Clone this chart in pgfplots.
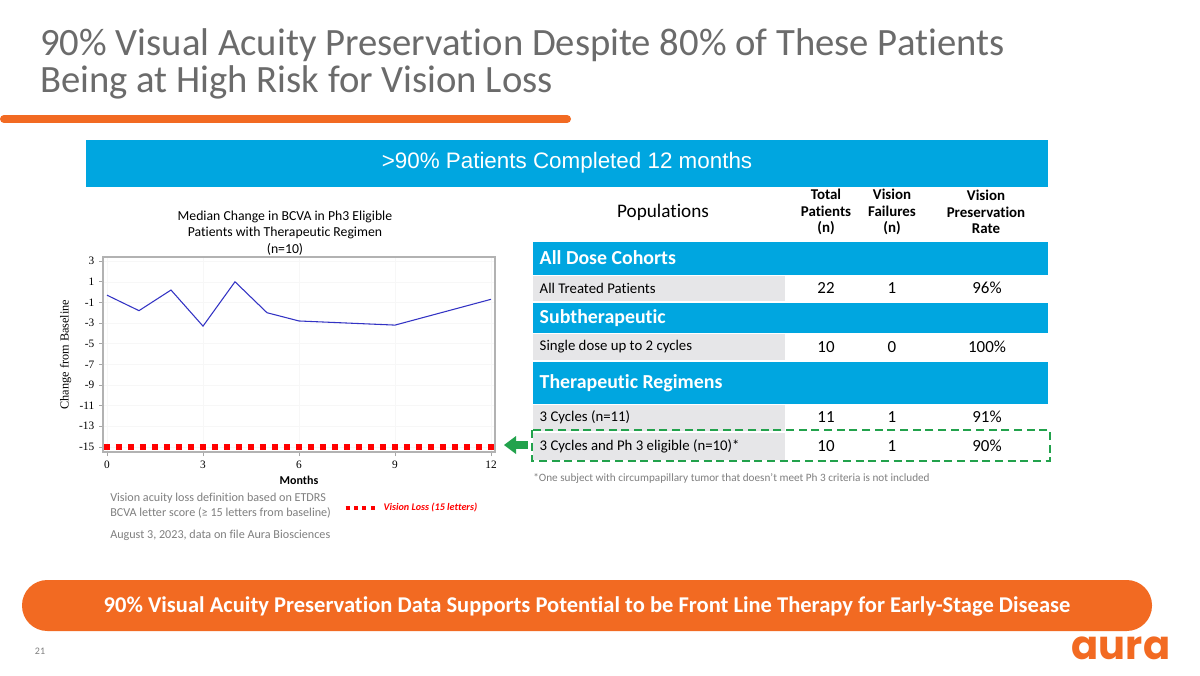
\documentclass[border=0pt]{standalone}
\usepackage{fontspec}
\setmainfont{Carlito}[Ligatures={NoCommon}]
\newfontfamily\serif{Liberation Serif}
\newfontfamily\arial{Liberation Sans}
\newfontfamily\pop{Poppins}
\usepackage{pgfplots}
\pgfplotsset{compat=1.18}
\definecolor{titlegray}{HTML}{6B6B6B}
\definecolor{auraorange}{HTML}{F26A22}
\definecolor{bannerblue}{HTML}{00A6E0}
\definecolor{cellgray}{HTML}{E6E6E8}
\definecolor{boxgreen}{HTML}{22A24C}
\definecolor{lineblue}{HTML}{3333C4}
\definecolor{notegray}{HTML}{7F7F7F}
\begin{document}
\begin{tikzpicture}[x=0.75pt,y=-0.75pt]
\useasboundingbox (0,0) rectangle (1200,675);
\fill[white] (0,0) rectangle (1200,675);
% title
\node[anchor=base west,inner sep=0,text=titlegray,font=\fontsize{29}{32}\selectfont] at (40,55) {90\% Visual Acuity Preservation Despite 80\% of These Patients};
\node[anchor=base west,inner sep=0,text=titlegray,font=\fontsize{29}{32}\selectfont] at (40,92) {Being at High Risk for Vision Loss};
\draw[auraorange,line width=6pt,line cap=round] (4,119) -- (567,119);
% banner
\fill[bannerblue] (86,140) rectangle (1048,187);
\node[text=white,font=\arial\fontsize{16.8}{20}\selectfont] at (567,163) {>90\% Patients Completed 12 months};
% table header
\node[font=\fontsize{14.4}{17}\selectfont] at (663,212) {Populations};
\node[align=center,font=\bfseries\fontsize{11.2}{12.2}\selectfont] at (826,212) {Total\\Patients\\(n)};
\node[align=center,font=\bfseries\fontsize{11.2}{12.2}\selectfont] at (892,212) {Vision\\Failures\\(n)};
\node[align=center,font=\bfseries\fontsize{11.2}{12.2}\selectfont] at (986,212) {Vision\\Preservation\\Rate};
% table body
\fill[bannerblue] (533,242) rectangle (1048,275);
\node[anchor=west,text=white,font=\bfseries\fontsize{14.9}{17}\selectfont] at (535,258) {All Dose Cohorts};
\fill[cellgray] (533,276) rectangle (785,301);
\node[anchor=west,font=\fontsize{11.1}{13}\selectfont] at (535,288) {All Treated Patients};
\fill[bannerblue] (533,303) rectangle (1048,333);
\node[anchor=west,text=white,font=\bfseries\fontsize{14.9}{17}\selectfont] at (535,318) {Subtherapeutic};
\fill[cellgray] (533,334) rectangle (785,360);
\node[anchor=west,font=\fontsize{11.1}{13}\selectfont] at (535,347) {Single dose up to 2 cycles};
\fill[bannerblue] (533,362) rectangle (1048,404);
\node[anchor=west,text=white,font=\bfseries\fontsize{14.9}{17}\selectfont] at (535,383) {Therapeutic Regimens};
\fill[cellgray] (533,405) rectangle (785,431);
\node[anchor=west,font=\fontsize{11.1}{13}\selectfont] at (535,417) {3 Cycles (n=11)};
\fill[cellgray] (533,433) rectangle (785,460);
\node[anchor=west,font=\fontsize{11.1}{13}\selectfont] at (535,446) {3 Cycles and Ph 3 eligible (n=10)*};
\foreach \y/\a/\b/\c in {288/22/1/96\%,347/10/0/100\%,417/11/1/91\%,446/10/1/90\%}{
  \node[font=\fontsize{12.7}{14}\selectfont] at (826,\y) {\a};
  \node[font=\fontsize{12.7}{14}\selectfont] at (892,\y) {\b};
  \node[font=\fontsize{12.7}{14}\selectfont] at (987,\y) {\c};
}
\draw[boxgreen,line width=1.8pt,dash pattern=on 6pt off 3.5pt] (532,430) rectangle (1050,461);
\fill[boxgreen] (515,441) rectangle (528,449);
\fill[boxgreen] (504,445) -- (516,436) -- (516,454) -- cycle;
\node[anchor=base west,inner sep=0,text=notegray,font=\fontsize{8.4}{10}\selectfont] at (533,481) {*One subject with circumpapillary tumor that doesn’t meet Ph 3 criteria is not included};
% chart title
\node[align=center,font=\fontsize{10.3}{12.4}\selectfont] at (285,233) {Median Change in BCVA in Ph3 Eligible\\Patients with Therapeutic Regimen\\(n=10)};
% chart notes
\node[anchor=base west,inner sep=0,text=notegray,font=\fontsize{9.1}{11}\selectfont] at (110,501) {Vision acuity loss definition based on ETDRS};
\node[anchor=base west,inner sep=0,text=notegray,font=\fontsize{9.1}{11}\selectfont] at (110,516) {BCVA letter score (≥ 15 letters from baseline)};
\node[anchor=base west,inner sep=0,text=notegray,font=\fontsize{9.1}{11}\selectfont] at (110,538) {August 3, 2023, data on file Aura Biosciences};
% axis
\begin{axis}[
  at={(77.25pt,-339pt)}, anchor=south west,
  scale only axis, width=294pt, height=146.25pt,
  xmin=-0.125, xmax=12.125, ymin=-15.5, ymax=3.4,
  xtick={0,3,6,9,12}, xticklabels={0,3,6,9,12},
  ytick={-15,-13,-11,-9,-7,-5,-3,-1,1,3},
  yticklabels={-15,-13,-11,-9,-7,-5,-3,-1,1,3},
  tick pos=left,
  tick align=outside, major tick length=3pt,
  tick style={gray!70,line width=0.5pt},
  axis line style={gray!60,line width=0.8pt},
  grid=major, grid style={gray!6,line width=0.4pt},
  ticklabel style={font=\serif\fontsize{8.5}{10}\selectfont},
  xlabel={Months}, xlabel style={font=\bfseries\fontsize{9}{11}\selectfont, yshift=1pt},
  ylabel={Change from Baseline}, ylabel style={font=\serif\fontsize{9.2}{11}\selectfont, yshift=-1pt},
  legend style={at={(0.603,-0.287)},anchor=west,draw=none,fill=none,font=\bfseries\itshape\fontsize{7.6}{9}\selectfont,text=red},
  legend cell align=left,
  clip=false,
]
\addplot[red,line width=4.5pt,dash pattern=on 4.5pt off 4.5pt,
  legend image code/.code={\draw[red,line width=3pt,dash pattern=on 3pt off 3.3pt] (0pt,0pt) -- (25pt,0pt);}]
  coordinates {(-0.1,-15) (12.125,-15)};
\addlegendentry{Vision Loss (15 letters)}
\addplot[lineblue,line width=0.8pt,forget plot] coordinates {
  (0,-0.3) (1,-1.8) (2,0.2) (3,-3.3) (4,1.0) (5,-2.0) (6,-2.8) (9,-3.2) (12,-0.7)};
\end{axis}
% bottom banner
\fill[auraorange,rounded corners=19pt] (22,580) rectangle (1152,631);
\node[text=white,font=\bfseries\fontsize{16.9}{19}\selectfont] at (587,606) {90\% Visual Acuity Preservation Data Supports Potential to be Front Line Therapy for Early-Stage Disease};
\node[text=notegray,font=\fontsize{7.5}{9}\selectfont] at (40,651) {21};
\node[text=auraorange,font=\pop\bfseries\fontsize{30}{32}\selectfont,inner sep=0] at (1121,648) {aura};
\end{tikzpicture}
\end{document}
